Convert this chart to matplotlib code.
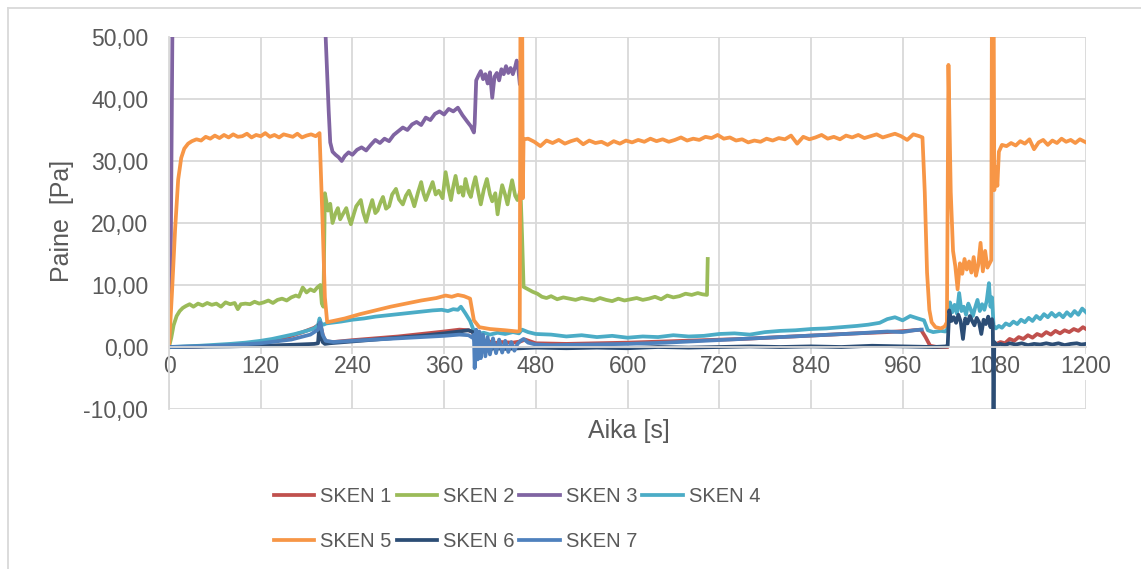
import numpy as np
import matplotlib
matplotlib.use('Agg')
import matplotlib.pyplot as plt
from matplotlib.lines import Line2D

# (aika [s], paine [Pa])
sken1 = [(0, 0.0), (30, 0.05), (60, 0.2), (90, 0.45), (120, 0.8), (140, 1.2), (160, 1.8), (175, 2.4),
         (190, 3.1), (196, 3.6), (199, 3.2), (202, 1.5), (206, 0.9), (215, 0.8), (240, 1.1), (270, 1.4),
         (300, 1.7), (330, 2.1), (360, 2.5), (380, 2.8), (392, 2.7), (398, 2.4), (401, 0.6), (405, 1.4),
         (410, 0.5), (416, 1.1), (424, 0.6), (435, 0.8), (450, 0.7), (460, 0.9), (466, 1.2), (480, 0.6),
         (520, 0.5), (560, 0.6), (600, 0.7), (650, 0.9), (700, 1.1), (750, 1.3), (800, 1.6), (850, 1.9),
         (900, 2.2), (940, 2.4), (965, 2.6), (984, 2.8), (990, 1.6), (996, 0.2), (1005, 0.0), (1018, 0.0),
         (1019, np.nan), (1081, 0.4), (1088, 0.8), (1094, 0.6), (1100, 1.3), (1106, 1.0), (1112, 1.6),
         (1118, 1.3), (1124, 1.9), (1130, 1.5), (1136, 2.1), (1142, 1.8), (1148, 2.4), (1154, 2.0),
         (1160, 2.6), (1166, 2.2), (1172, 2.7), (1178, 2.4), (1184, 2.9), (1190, 2.6), (1196, 3.2), (1200, 2.9)]

sken2 = [(0, 0.0), (3, 1.5), (6, 3.5), (10, 5.0), (14, 5.8), (18, 6.3), (22, 6.6), (27, 6.9), (32, 6.5),
         (38, 7.0), (44, 6.7), (50, 7.1), (56, 6.8), (62, 7.0), (68, 6.5), (74, 7.2), (80, 6.9), (86, 7.1),
         (90, 6.1), (94, 6.9), (100, 7.0), (106, 6.9), (112, 7.3), (118, 7.0), (124, 7.2), (130, 7.5),
         (136, 7.1), (142, 7.6), (148, 7.8), (154, 7.5), (160, 8.0), (166, 8.3), (170, 8.1), (175, 9.6),
         (180, 8.8), (185, 9.3), (190, 9.0), (194, 9.6), (198, 10.0), (200, 7.0), (202, 6.5), (204, 24.8),
         (208, 22.0), (211, 23.1), (214, 20.0), (218, 21.6), (221, 22.4), (224, 20.6), (227, 21.3),
         (232, 22.4), (235, 20.9), (238, 19.8), (242, 21.5), (245, 22.7), (251, 23.7), (254, 21.8),
         (258, 20.2), (262, 22.1), (266, 23.7), (270, 21.6), (273, 22.0), (277, 23.4), (280, 24.2),
         (284, 22.3), (288, 22.7), (292, 24.6), (297, 25.5), (301, 23.8), (306, 23.0), (310, 24.4),
         (314, 25.2), (318, 23.9), (321, 22.7), (326, 25.0), (330, 26.6), (333, 24.8), (336, 23.7),
         (341, 25.3), (345, 26.6), (349, 24.6), (353, 25.2), (358, 24.0), (362, 28.2), (366, 25.4),
         (369, 23.7), (372, 25.9), (375, 27.6), (379, 24.9), (382, 25.8), (385, 24.4), (388, 27.1),
         (392, 25.0), (395, 24.2), (398, 26.0), (401, 27.4), (405, 24.8), (408, 23.0), (412, 25.4),
         (416, 27.1), (420, 24.6), (423, 23.5), (427, 24.8), (430, 21.4), (433, 24.0), (436, 26.1),
         (440, 24.5), (443, 23.0), (446, 25.1), (449, 26.9), (453, 24.4), (456, 23.7), (460, 25.2),
         (462, 18.0), (464, 9.7), (470, 9.3), (476, 8.9), (482, 8.6), (488, 8.1), (494, 7.9), (500, 8.2),
         (508, 7.7), (516, 8.0), (524, 7.8), (532, 7.6), (540, 7.9), (548, 7.7), (556, 7.5), (564, 7.9),
         (572, 7.6), (580, 7.4), (588, 7.8), (596, 7.5), (604, 7.7), (612, 7.9), (620, 7.6), (628, 7.8),
         (636, 8.1), (644, 7.7), (652, 8.3), (660, 8.0), (668, 8.2), (676, 8.6), (684, 8.4), (692, 8.7),
         (698, 8.5), (704, 8.4), (705, 14.2)]

sken3 = [(0, 0.0), (2, 10.0), (5, 60.0), (204, 60.0), (205, 50.0), (207, 44.0), (209, 38.0), (211, 33.0),
         (214, 31.5), (218, 31.0), (222, 30.6), (226, 30.0), (230, 30.8), (235, 31.4), (240, 31.0),
         (246, 31.8), (252, 32.2), (258, 31.7), (264, 32.6), (270, 33.4), (276, 32.9), (282, 33.6),
         (288, 33.2), (294, 34.2), (300, 34.8), (306, 35.4), (312, 35.0), (318, 35.9), (324, 36.3),
         (330, 35.8), (336, 37.0), (342, 36.6), (348, 37.6), (354, 38.0), (360, 37.5), (366, 38.4),
         (372, 38.0), (378, 38.6), (384, 37.4), (390, 36.4), (395, 35.6), (399, 34.6), (400, 36.0),
         (402, 43.0), (405, 43.8), (408, 44.5), (411, 43.2), (414, 44.0), (417, 42.5), (420, 44.3),
         (423, 40.2), (426, 43.6), (429, 44.2), (432, 43.0), (435, 44.8), (438, 44.0), (441, 45.3),
         (444, 44.2), (447, 45.0), (450, 44.0), (453, 45.2), (455, 46.2), (457, 45.0), (459, 42.5)]

sken4 = [(0, 0.0), (20, 0.1), (40, 0.2), (60, 0.35), (80, 0.5), (100, 0.7), (120, 1.0), (135, 1.3),
         (150, 1.7), (165, 2.1), (180, 2.6), (190, 3.0), (195, 3.5), (197, 4.6), (199, 3.8), (202, 3.6),
         (206, 3.8), (212, 3.9), (225, 4.1), (240, 4.4), (255, 4.6), (270, 4.9), (285, 5.1), (300, 5.3),
         (315, 5.5), (330, 5.7), (345, 5.9), (357, 6.0), (365, 5.8), (372, 6.1), (378, 6.0), (382, 6.5),
         (388, 5.4), (394, 4.2), (399, 2.6), (404, 2.1), (412, 2.3), (420, 2.0), (430, 2.3), (440, 2.1),
         (450, 2.4), (458, 2.2), (462, 2.8), (470, 2.4), (480, 2.1), (500, 2.0), (520, 1.7), (540, 1.9),
         (560, 1.6), (580, 1.8), (600, 1.5), (620, 1.7), (640, 1.6), (660, 1.9), (680, 1.7), (700, 1.8),
         (720, 2.1), (740, 2.2), (760, 2.0), (780, 2.4), (800, 2.6), (820, 2.7), (840, 2.9), (860, 3.0),
         (880, 3.2), (900, 3.4), (915, 3.6), (930, 3.9), (940, 4.5), (950, 4.8), (960, 4.3), (970, 5.0),
         (980, 4.6), (988, 4.3), (993, 2.7), (1000, 2.4), (1010, 2.6), (1016, 2.5), (1019, 3.0),
         (1022, 7.2), (1025, 5.6), (1028, 6.8), (1031, 5.4), (1034, 8.7), (1037, 5.8), (1040, 6.5),
         (1043, 5.2), (1046, 7.0), (1049, 6.1), (1052, 5.0), (1055, 6.4), (1058, 7.6), (1061, 5.8),
         (1064, 6.9), (1067, 6.0), (1070, 7.4), (1073, 10.3), (1075, 6.5), (1077, 8.0), (1079, 3.5),
         (1082, 3.0), (1086, 3.4), (1090, 3.1), (1095, 3.8), (1100, 3.5), (1105, 4.1), (1110, 3.7),
         (1115, 4.4), (1120, 4.0), (1125, 4.7), (1130, 4.2), (1135, 5.0), (1140, 4.5), (1145, 5.3),
         (1150, 4.8), (1155, 5.5), (1160, 4.9), (1165, 5.4), (1170, 4.8), (1175, 5.6), (1180, 5.0),
         (1185, 5.8), (1190, 5.2), (1195, 6.2), (1200, 5.6)]

sken5 = [(0, 0.0), (4, 9.0), (8, 19.0), (12, 27.0), (16, 30.5), (20, 32.0), (25, 32.8), (30, 33.2),
         (36, 33.5), (42, 33.3), (48, 33.9), (54, 33.6), (60, 34.1), (66, 33.7), (72, 34.2), (78, 33.8),
         (84, 34.3), (90, 33.9), (96, 34.0), (102, 34.4), (108, 33.8), (114, 34.2), (120, 34.0),
         (126, 34.5), (132, 33.9), (138, 34.2), (144, 33.8), (150, 34.3), (156, 34.1), (162, 33.9),
         (168, 34.4), (174, 33.8), (180, 34.1), (186, 34.3), (192, 34.0), (197, 34.5), (201, 20.0),
         (204, 8.0), (207, 4.0), (215, 4.2), (230, 4.6), (250, 5.3), (270, 5.9), (290, 6.5), (310, 7.0),
         (330, 7.5), (350, 7.9), (362, 8.3), (370, 8.1), (378, 8.4), (386, 8.2), (394, 7.8), (399, 4.3),
         (406, 3.2), (420, 2.9), (440, 2.7), (456, 2.5), (459, 2.6), (460, 60.0), (462, 60.0), (463, 24.0),
         (464, 33.5), (470, 33.6), (478, 33.1), (486, 32.4), (494, 33.3), (502, 32.9), (510, 33.4),
         (518, 32.8), (526, 33.2), (534, 33.5), (542, 32.7), (550, 33.3), (558, 32.9), (566, 33.1),
         (574, 32.6), (582, 33.2), (590, 32.8), (598, 33.3), (606, 33.0), (614, 33.4), (622, 33.1),
         (630, 33.6), (638, 33.2), (646, 33.5), (654, 33.1), (662, 33.4), (670, 33.8), (678, 33.3),
         (686, 33.6), (694, 33.4), (702, 33.9), (710, 33.7), (718, 34.2), (726, 33.6), (734, 33.8),
         (742, 33.3), (750, 33.5), (758, 33.0), (766, 33.3), (774, 33.1), (782, 33.6), (790, 33.3),
         (798, 33.7), (806, 33.5), (814, 34.1), (822, 32.8), (830, 33.9), (838, 33.5), (846, 33.8),
         (854, 34.2), (862, 33.6), (870, 33.9), (878, 33.5), (886, 34.1), (894, 33.8), (902, 34.2),
         (910, 33.7), (918, 34.0), (926, 34.3), (934, 33.8), (942, 34.1), (950, 34.4), (958, 34.0),
         (966, 33.4), (974, 34.3), (982, 34.0), (986, 33.8), (989, 25.0), (992, 12.0), (995, 6.0),
         (998, 4.0), (1003, 3.2), (1010, 3.0), (1015, 3.3), (1018, 4.0), (1020, 45.5), (1023, 25.0),
         (1026, 15.5), (1029, 13.0), (1032, 9.3), (1035, 13.5), (1038, 11.8), (1041, 14.2), (1044, 12.5),
         (1047, 13.8), (1050, 12.0), (1053, 14.5), (1056, 11.5), (1059, 13.2), (1062, 16.8), (1065, 12.2),
         (1068, 15.5), (1071, 12.8), (1074, 13.5), (1076, 14.0), (1077, 60.0), (1079, 60.0), (1080, 25.3),
         (1082, 29.0), (1084, 26.0), (1086, 31.5), (1090, 32.6), (1096, 32.4), (1102, 32.9), (1108, 32.5),
         (1114, 33.2), (1120, 32.8), (1126, 33.5), (1132, 31.9), (1138, 33.0), (1144, 33.4), (1150, 32.6),
         (1156, 33.3), (1162, 32.9), (1168, 33.6), (1174, 33.1), (1180, 33.4), (1186, 32.9), (1192, 33.5),
         (1200, 33.0)]

sken6 = [(0, 0.0), (40, 0.05), (80, 0.1), (120, 0.2), (160, 0.35), (190, 0.5), (195, 0.6), (197, 3.8),
         (199, 1.5), (201, 0.8), (204, 0.5), (210, 0.6), (240, 0.9), (270, 1.2), (300, 1.5), (330, 1.8),
         (360, 2.2), (380, 2.5), (392, 2.7), (398, 2.4), (401, 0.3), (404, -0.8), (408, -0.4), (415, -0.6),
         (425, -0.2), (440, -0.3), (460, -0.2), (480, -0.1), (520, -0.2), (560, -0.1), (600, -0.2),
         (640, 0.0), (680, -0.1), (720, 0.0), (760, 0.1), (800, 0.0), (840, 0.1), (880, 0.0), (920, 0.2),
         (960, 0.1), (1000, 0.0), (1017, 0.1), (1019, 0.2), (1021, 5.9), (1024, 4.2), (1027, 4.8),
         (1030, 3.9), (1033, 5.2), (1036, 4.1), (1039, 1.3), (1042, 4.6), (1045, 3.8), (1048, 5.0),
         (1051, 4.2), (1054, 3.5), (1057, 4.7), (1060, 4.0), (1063, 2.1), (1066, 4.4), (1069, 3.7),
         (1072, 4.9), (1075, 3.2), (1077, 4.5), (1078, 3.8), (1079, -10.5), (1080, 0.8), (1083, 0.3),
         (1088, 0.5), (1094, 0.3), (1100, 0.6), (1108, 0.4), (1116, 0.6), (1124, 0.3), (1132, 0.5),
         (1140, 0.4), (1148, 0.6), (1156, 0.4), (1164, 0.6), (1172, 0.3), (1180, 0.5), (1188, 0.6),
         (1194, 0.4), (1200, 0.5)]

sken7 = [(0, 0.0), (40, 0.1), (80, 0.3), (120, 0.6), (160, 1.2), (185, 2.0), (195, 2.8), (198, 4.0),
         (201, 2.0), (205, 1.0), (215, 0.8), (240, 1.0), (270, 1.2), (300, 1.4), (330, 1.6), (360, 1.8),
         (380, 2.0), (392, 1.9), (397, 1.5), (399, 2.0), (400, -3.4), (402, 2.8), (404, -2.0), (406, 2.5),
         (408, -1.8), (411, 2.0), (414, -1.5), (417, 1.6), (420, -1.2), (424, 1.4), (428, -1.0), (432, 1.2),
         (436, -0.9), (440, 1.0), (444, -0.8), (448, 0.8), (452, -0.6), (456, 0.5), (460, 1.0), (464, 1.3),
         (470, 0.7), (480, 0.4), (500, 0.3), (550, 0.4), (600, 0.5), (650, 0.7), (700, 1.0), (750, 1.3),
         (800, 1.6), (850, 1.9), (900, 2.2), (940, 2.5), (960, 2.4), (975, 2.7), (985, 2.8)]

names = ['SKEN 1', 'SKEN 2', 'SKEN 3', 'SKEN 4', 'SKEN 5', 'SKEN 6', 'SKEN 7']
colors = ['#C0504D', '#9BBB59', '#8064A2', '#4BACC6', '#F79646', '#2C4D75', '#4F81BD']
series = [sken1, sken2, sken3, sken4, sken5, sken6, sken7]
x_ticks = [0, 120, 240, 360, 480, 600, 720, 840, 960, 1080, 1200]
y_ticks = [-10, 0, 10, 20, 30, 40, 50]

plt.rcParams['font.family'] = ['Liberation Sans', 'DejaVu Sans']
txt = '#595959'
grid = '#D9D9D9'
W, H = 1141, 569

fig = plt.figure(figsize=(W / 100, H / 100), dpi=100)
ax = fig.add_axes([169 / W, 1 - 409 / H, 917 / W, 372 / H])

handles = []
for name, color, data in zip(names, colors, series):
    t, p = zip(*data)
    ln, = ax.plot(t, p, color=color, lw=2.7, label=name, solid_joinstyle='round')
    handles.append(ln)

ax.set_xlim(0, 1200)
ax.set_ylim(-10, 50)
ax.set_xticks(x_ticks)
ax.set_yticks(y_ticks)
ax.yaxis.set_major_formatter(lambda v, pos: f'{v:.2f}'.replace('.', ','))
ax.grid(color=grid, lw=1.3)
ax.set_axisbelow(True)
for s in ['top', 'right']:
    ax.spines[s].set_visible(False)
ax.spines['left'].set_color(grid)
ax.spines['left'].set_linewidth(1.3)
ax.spines['bottom'].set_position(('data', 0))
ax.spines['bottom'].set_color(grid)
ax.spines['bottom'].set_linewidth(1.3)
ax.tick_params(length=0, labelsize=16.5, labelcolor=txt)
ax.tick_params(axis='y', pad=15)
ax.tick_params(axis='x', pad=6)
for lab in ax.get_xticklabels():
    lab.set_bbox(dict(facecolor='white', edgecolor='none', pad=1))

fig.text(629 / W, 1 - 431 / H, 'Aika [s]', ha='center', va='center', fontsize=18, color=txt)
fig.text(62.5 / W, 1 - 221 / H, 'Paine  [Pa]', ha='center', va='center', rotation=90,
         fontsize=18, color=txt)

# legend filled row by row like Excel
order = [0, 4, 1, 5, 2, 6, 3]
fig.legend([handles[i] for i in order], [names[i] for i in order], ncol=4, loc='center',
           bbox_to_anchor=(517 / W, 1 - 519 / H), frameon=False, fontsize=14.5, labelcolor=txt,
           handlelength=2.0, handletextpad=0.3, columnspacing=0.25, labelspacing=1.3, borderpad=0)

# chart area border (only top and left visible in the crop)
fig.add_artist(Line2D([8 / W, 8 / W], [0, 1 - 7.5 / H], transform=fig.transFigure, color=grid, lw=1.3))
fig.add_artist(Line2D([8 / W, 1], [1 - 7.5 / H, 1 - 7.5 / H], transform=fig.transFigure, color=grid, lw=1.3))

fig.savefig('out.png', dpi=100)
